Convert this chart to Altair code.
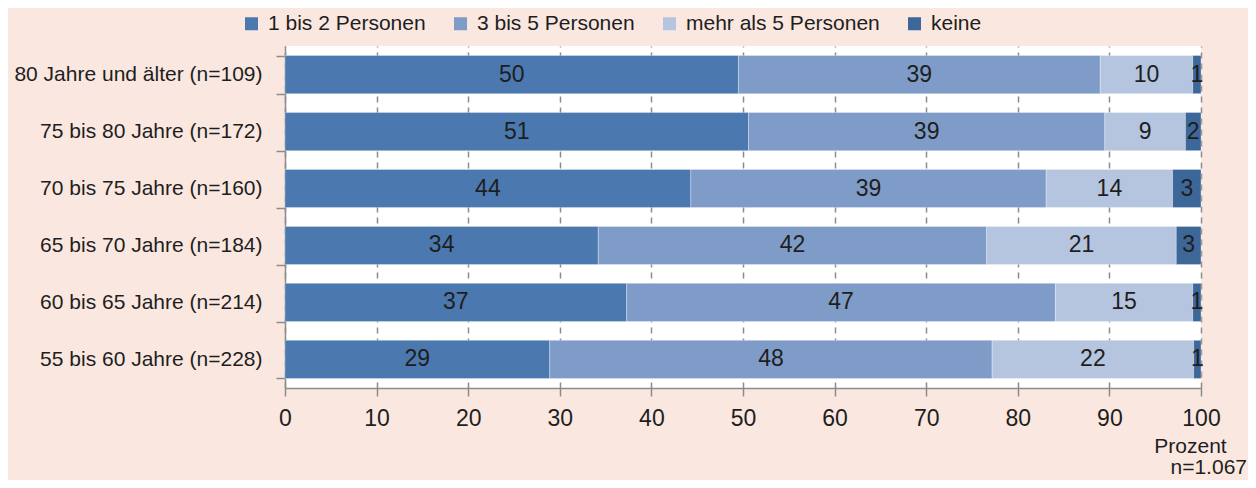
import altair as alt
import pandas as pd

groups = [
    "80 Jahre und älter (n=109)",
    "75 bis 80 Jahre (n=172)",
    "70 bis 75 Jahre (n=160)",
    "65 bis 70 Jahre (n=184)",
    "60 bis 65 Jahre (n=214)",
    "55 bis 60 Jahre (n=228)",
]
categories = ["1 bis 2 Personen", "3 bis 5 Personen", "mehr als 5 Personen", "keine"]
colors = ["#4A78AF", "#7F9CC8", "#B5C4DF", "#3D6699"]

# measured segment lengths (percent)
v_1_2 = [49.5, 50.6, 44.3, 34.2, 37.3, 28.9]
v_3_5 = [39.5, 38.9, 38.8, 42.4, 46.8, 48.3]
v_gt5 = [10.1, 8.8, 13.8, 20.7, 15.0, 22.0]
v_keine = [0.9, 1.7, 3.1, 2.7, 0.9, 0.8]

# printed labels
l_1_2 = [50, 51, 44, 34, 37, 29]
l_3_5 = [39, 39, 39, 42, 47, 48]
l_gt5 = [10, 9, 14, 21, 15, 22]
l_keine = [1, 2, 3, 3, 1, 1]

x_ticks = [0, 10, 20, 30, 40, 50, 60, 70, 80, 90, 100]

FONT = "Liberation Sans, Arial, sans-serif"
FS = 21      # text labels
FN = 23      # numbers

rows = []
for ci, (cat, vals, labs) in enumerate(zip(categories, [v_1_2, v_3_5, v_gt5, v_keine], [l_1_2, l_3_5, l_gt5, l_keine])):
    for g, v, l in zip(groups, vals, labs):
        rows.append({"group": g, "cat": cat, "order": ci, "value": v, "label": str(l)})
df = pd.DataFrame(rows)

base = alt.Chart(df).transform_stack(
    stack="value", groupby=["group"], as_=["x0", "x1"], sort=[alt.SortField("order", order="ascending")]
)

y_axis = alt.Axis(
    title=None,
    labelFont=FONT,
    labelFontSize=FS,
    labelColor="#1e1e1e",
    labelPadding=14,
    labelLimit=500,
    tickBand="extent",
    tickSize=9,
    tickColor="#8c8c8c",
    tickWidth=1.5,
    domainColor="#8c8c8c",
    domainWidth=1.5,
    grid=False,
)
x_axis = alt.Axis(
    values=x_ticks,
    title="Prozent",
    titleFont=FONT,
    titleFontSize=FS,
    titleFontWeight="normal",
    titleColor="#1e1e1e",
    titleX=905,
    titleY=58,
    titleAlign="center",
    titleBaseline="middle",
    labelFont=FONT,
    labelFontSize=FN,
    labelColor="#1e1e1e",
    labelPadding=11,
    labelFlush=False,
    tickSize=8,
    tickColor="#8c8c8c",
    tickWidth=1.5,
    domainColor="#8c8c8c",
    domainWidth=1.5,
    grid=True,
    gridColor="#8c8c8c",
    gridDash=[6, 5],
    gridWidth=1.5,
)
y_scale = alt.Scale(paddingInner=0.33, paddingOuter=0.167)
x_scale = alt.Scale(domain=[0, 100], nice=False)

bars = base.mark_bar(stroke="#ffffff", strokeWidth=0.6, strokeOpacity=0.5).encode(
    y=alt.Y("group:N", sort=groups, scale=y_scale, axis=y_axis),
    x=alt.X("x0:Q", scale=x_scale, axis=x_axis),
    x2="x1:Q",
    color=alt.Color(
        "cat:N",
        scale=alt.Scale(domain=categories, range=colors),
        legend=alt.Legend(
            title=None,
            orient="none",
            direction="horizontal",
            legendX=-44,
            legendY=-33,
            symbolType="square",
            symbolSize=169,
            symbolStrokeWidth=0,
            labelFont=FONT,
            labelFontSize=FS,
            labelColor="#1e1e1e",
            labelOffset=6,
            labelLimit=400,
            columnPadding=24,
        ),
    ),
    order=alt.Order("order:Q"),
)

text = base.transform_calculate(mid="(datum.x0 + datum.x1) / 2").mark_text(
    font=FONT, fontSize=FN, color="#1e1e1e", align="center", baseline="middle"
).encode(
    y=alt.Y("group:N", sort=groups, scale=y_scale, axis=y_axis),
    x=alt.X("mid:Q", scale=x_scale, axis=x_axis),
    text="label:N",
)

chart = alt.layer(bars, text).properties(
    width=916,
    height=342,
    autosize=alt.AutoSizeParams(type="none"),
    padding={"left": 277, "top": 38, "right": 47, "bottom": 92},
    background="#FAE7DF",
    title=alt.TitleParams(
        "n=1.067",
        orient="bottom",
        anchor="end",
        frame="group",
        font=FONT,
        fontSize=FS,
        fontWeight="normal",
        color="#1e1e1e",
        dx=46,
        offset=1,
    ),
).configure_view(fill="#ffffff", stroke=None)

chart.save("out.html", embed_options={"renderer": "svg", "actions": False})
